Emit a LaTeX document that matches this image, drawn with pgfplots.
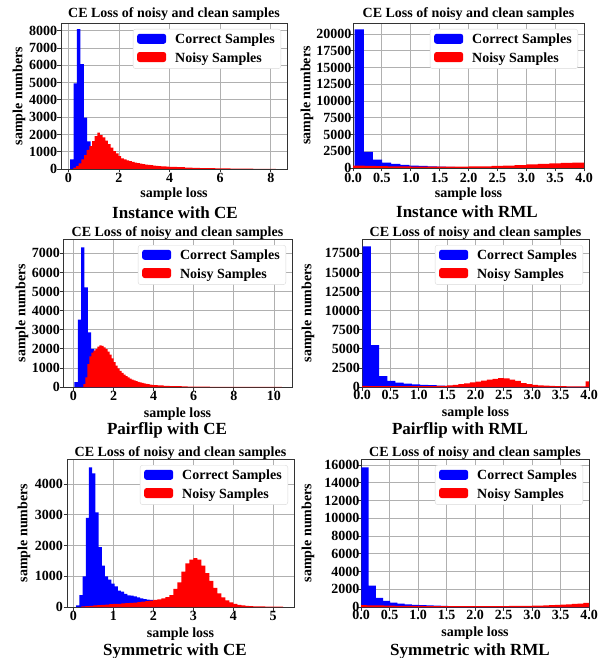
\documentclass[border=0pt]{standalone}
\usepackage{fontspec}
\setmainfont{Liberation Serif}
\usepackage{pgfplots}
\pgfplotsset{compat=1.18}

\definecolor{gridgray}{HTML}{B0B0B0}
\definecolor{framegray}{HTML}{333333}
\newcommand{\labfont}{\bfseries\fontsize{14}{16}\selectfont}
\newcommand{\capfont}{\bfseries\fontsize{17}{20}\selectfont}

\pgfplotsset{
  panel/.style={
    scale only axis, anchor=north west,
    ymin=0,
    grid=major,
    grid style={gridgray, line width=0.8pt},
    axis line style={framegray, line width=0.8pt},
    tick style={framegray, line width=0.8pt},
    tick align=outside, major tick length=3.5pt,
    xtick pos=left, ytick pos=left,
    /pgf/number format/assume math mode=true,
    /pgf/number format/1000 sep={},
    scaled ticks=false,
    tick label style={font=\labfont},
    label style={font=\labfont},
    title style={font=\labfont, at={(axis description cs:0.5,1)}, anchor=base},
    title={CE Loss of noisy and clean samples},
    xlabel={sample loss}, ylabel={sample numbers},
    xlabel style={at={(axis description cs:0.5,0)}, anchor=base},
    ylabel style={anchor=center},
    legend cell align=left,
    legend style={at={(axis description cs:1,1)}, anchor=north east,
      xshift=-6pt, yshift=-6pt, draw=black!15, rounded corners=2.5pt,
      font=\labfont, inner xsep=4pt, inner ysep=3pt, row sep=3pt,
      /tikz/every odd column/.append style={column sep=7pt}},
  },
  clean/.style={const plot, fill=blue, draw=none,
    legend image code/.code={\fill[blue] (0pt,-4pt) rectangle (29pt,6pt);}},
  noisy/.style={const plot, fill=red, draw=none,
    legend image code/.code={\fill[red] (0pt,-4pt) rectangle (29pt,6pt);}},
  onedec/.style={xticklabel style={/pgf/number format/fixed,
    /pgf/number format/fixed zerofill, /pgf/number format/precision=1}},
}

\begin{document}
\begin{tikzpicture}
\useasboundingbox (0,0) rectangle (602pt,-658pt);

% Instance with CE
\begin{axis}[panel, at={(61pt,-23pt)}, width=226pt, height=146pt,
  xmin=-0.29, xmax=8.64, ymax=8450,
  xtick={0,2,4,6,8}, ytick={0,1000,...,8000},
  title style={yshift=-1pt}, xlabel style={yshift=-29pt},
  ylabel style={at={(axis description cs:-0.186,0.5)}},
  yticklabel style={xshift=3.2pt}, xticklabel style={yshift=3pt}]
\addplot[clean] coordinates {
(0.07,560) (0.205,4950) (0.34,8090) (0.475,6070) (0.61,2970) (0.745,1600)
(0.88,900) (1.015,520) (1.15,300) (1.285,190) (1.42,120) (1.555,80)
(1.69,50) (1.825,35) (1.96,25) (2.095,15) (2.23,10) (2.5,10)} \closedcycle;
\addlegendentry{Correct Samples}
\addplot[noisy] coordinates {
(0.2,80) (0.305,170) (0.41,330) (0.515,560) (0.62,810) (0.725,1100)
(0.83,1330) (0.935,1620) (1.04,1900) (1.145,2100) (1.25,1960) (1.355,1830)
(1.46,1640) (1.565,1440) (1.67,1230) (1.775,1040) (1.88,900) (1.985,750)
(2.09,620) (2.195,560) (2.3,500) (2.405,450) (2.51,410) (2.615,370)
(2.72,340) (2.825,310) (2.93,285) (3.035,260) (3.14,240) (3.245,220)
(3.35,200) (3.455,185) (3.56,170) (3.665,158) (3.77,146) (3.875,135)
(3.98,125) (4.3,105) (4.6,85) (4.9,70) (5.2,57) (5.5,46) (5.8,37)
(6.1,30) (6.4,24) (6.7,19) (7.0,15) (7.3,12) (7.6,9) (7.9,7) (8.2,7)} \closedcycle;
\addlegendentry{Noisy Samples}
\end{axis}

% Instance with RML
\begin{axis}[panel, onedec, at={(353pt,-23pt)}, width=231pt, height=145pt,
  xmin=0, xmax=4, ymax=21650,
  xtick={0,0.5,...,4}, ytick={0,2500,...,20000},
  title style={yshift=-1pt}, xlabel style={yshift=-29.5pt},
  ylabel style={at={(axis description cs:-0.199,0.5)}},
  yticklabel style={xshift=5.5pt}, xticklabel style={yshift=2pt}]
\addplot[clean] coordinates {
(0.03,20700) (0.188,2400) (0.346,1250) (0.504,800) (0.662,600) (0.82,450)
(0.978,370) (1.136,310) (1.294,260) (1.452,200) (1.61,170) (1.768,145)
(1.926,125) (2.084,110) (2.242,95) (2.4,85) (2.558,75) (2.716,65)
(2.874,58) (3.032,52) (3.19,46) (3.348,40) (3.506,35) (3.664,30)
(3.822,26) (4.0,26)} \closedcycle;
\addlegendentry{Correct Samples}
\addplot[noisy] coordinates {
(0,350) (0.2,320) (0.4,290) (0.6,260) (0.8,240) (1.0,220) (1.2,210)
(1.4,200) (1.6,200) (1.8,210) (2.0,230) (2.2,260) (2.4,300) (2.6,360)
(2.8,440) (3.0,530) (3.2,620) (3.4,700) (3.6,760) (3.8,790) (4.0,790)} \closedcycle;
\addlegendentry{Noisy Samples}
\end{axis}

% Pairflip with CE
\begin{axis}[panel, at={(63pt,-239pt)}, width=229pt, height=148pt,
  xmin=-0.52, xmax=10.9, ymax=7750,
  xtick={0,2,...,10}, ytick={0,1000,...,7000},
  title style={yshift=-3.5pt}, xlabel style={yshift=-30pt},
  ylabel style={at={(axis description cs:-0.179,0.5)}},
  yticklabel style={xshift=4pt}, xticklabel style={yshift=2.5pt}]
\addplot[clean] coordinates {
(0.05,260) (0.217,3525) (0.383,7310) (0.55,5220) (0.717,2860) (0.883,2000)
(1.05,1300) (1.217,850) (1.383,550) (1.55,350) (1.717,220) (1.883,140)
(2.05,90) (2.217,60) (2.383,40) (2.55,40)} \closedcycle;
\addlegendentry{Correct Samples}
\addplot[noisy] coordinates {
(0.5,150) (0.6,500) (0.7,1200) (0.8,1600) (0.9,1800) (1.0,1900) (1.1,2000)
(1.2,2120) (1.3,2180) (1.4,2150) (1.5,2080) (1.6,1980) (1.7,1850) (1.8,1700)
(1.9,1500) (2.0,1300) (2.1,1120) (2.2,980) (2.3,850) (2.4,740) (2.5,650)
(2.6,570) (2.7,500) (2.8,440) (2.9,390) (3.0,345) (3.1,305) (3.2,270)
(3.3,240) (3.4,212) (3.5,188) (3.6,166) (3.7,147) (3.8,130) (3.9,115)
(4.0,100) (4.2,85) (4.5,65) (4.8,50) (5.1,40) (5.4,32) (5.7,25) (6.0,20)
(6.4,15) (6.8,11) (7.2,8) (7.6,6) (8.0,5) (8.5,4) (9.0,3) (9.5,2) (10.4,2)} \closedcycle;
\addlegendentry{Noisy Samples}
\end{axis}

% Pairflip with RML
\begin{axis}[panel, onedec, at={(362pt,-239pt)}, width=227pt, height=148pt,
  xmin=0, xmax=4, ymax=19380,
  xtick={0,0.5,...,4}, ytick={0,2500,...,17500},
  title style={yshift=-3.5pt}, xlabel style={yshift=-29.5pt},
  ylabel style={at={(axis description cs:-0.238,0.5)}},
  yticklabel style={xshift=5pt}, xticklabel style={yshift=4pt}]
\addplot[clean] coordinates {
(0.01,18400) (0.155,5470) (0.3,1440) (0.445,800) (0.59,570) (0.735,440)
(0.88,350) (1.025,280) (1.17,230) (1.315,190) (1.46,160) (1.605,135)
(1.75,115) (1.895,100) (2.04,85) (2.185,75) (2.33,65) (2.475,58)
(2.62,52) (2.765,46) (2.91,40) (3.055,36) (3.2,32) (3.345,28) (3.49,25)
(3.635,22) (3.78,20) (3.925,18) (4.0,18)} \closedcycle;
\addlegendentry{Correct Samples}
\addplot[noisy] coordinates {
(0,150) (0.1,130) (0.2,120) (0.3,110) (0.4,100) (0.5,100) (0.6,100)
(0.7,100) (0.8,100) (0.9,100) (1.0,105) (1.1,110) (1.2,120) (1.3,135)
(1.4,150) (1.5,200) (1.6,280) (1.7,370) (1.8,480) (1.9,600) (2.0,720)
(2.1,840) (2.2,960) (2.3,1080) (2.4,1150) (2.5,1120) (2.6,980) (2.7,800)
(2.8,520) (2.9,380) (3.0,280) (3.1,210) (3.2,170) (3.3,140) (3.4,120)
(3.5,100) (3.6,90) (3.7,85) (3.8,80) (3.9,80) (3.94,750) (4.0,750)} \closedcycle;
\addlegendentry{Noisy Samples}
\end{axis}

% Symmetric with CE
\begin{axis}[panel, at={(67pt,-459pt)}, width=227pt, height=148pt,
  xmin=-0.16, xmax=5.52, ymax=4820,
  xtick={0,1,...,5}, ytick={0,1000,...,4000},
  title style={yshift=-3.5pt}, xlabel style={yshift=-30pt},
  ylabel style={at={(axis description cs:-0.189,0.5)}},
  yticklabel style={xshift=2.9pt}, xticklabel style={yshift=3pt}]
\addplot[clean] coordinates {
(0.07,54) (0.15,390) (0.23,1000) (0.31,2900) (0.39,4550) (0.47,4355)
(0.55,3080) (0.63,1950) (0.71,1345) (0.79,1000) (0.87,890) (0.95,760)
(1.03,670) (1.11,530) (1.19,500) (1.27,430) (1.35,380) (1.43,370)
(1.51,350) (1.59,315) (1.67,280) (1.75,260) (1.83,240) (1.91,230)
(1.99,200) (2.07,160) (2.15,120) (2.23,90) (2.31,60) (2.39,40)
(2.47,25) (2.55,25)} \closedcycle;
\addlegendentry{Correct Samples}
\addplot[noisy] coordinates {
(0.2,20) (0.3,30) (0.4,40) (0.5,50) (0.6,60) (0.7,70) (0.8,80) (0.9,90)
(1.0,100) (1.1,105) (1.2,115) (1.3,125) (1.4,135) (1.5,145) (1.6,160)
(1.7,175) (1.8,190) (1.9,210) (2.0,230) (2.1,250) (2.2,280) (2.3,320)
(2.4,390) (2.5,590) (2.6,800) (2.7,1150) (2.8,1420) (2.9,1540) (3.0,1590)
(3.1,1540) (3.2,1350) (3.3,1100) (3.4,850) (3.5,620) (3.6,440) (3.7,310)
(3.8,220) (3.9,150) (4.0,105) (4.1,70) (4.2,50) (4.3,38) (4.4,30)
(4.5,22) (4.8,12) (5.25,12)} \closedcycle;
\addlegendentry{Noisy Samples}
\end{axis}

% Symmetric with RML
\begin{axis}[panel, onedec, at={(361pt,-459pt)}, width=228pt, height=148pt,
  xmin=0, xmax=4, ymax=16680,
  xtick={0,0.5,...,4}, ytick={0,2000,...,16000},
  title style={yshift=-3.5pt}, xlabel style={yshift=-29.5pt},
  ylabel style={at={(axis description cs:-0.232,0.5)}},
  yticklabel style={xshift=5.5pt}, xticklabel style={yshift=4pt}]
\addplot[clean] coordinates {
(0.005,15750) (0.132,2420) (0.259,1020) (0.386,690) (0.513,480) (0.64,380)
(0.767,300) (0.894,250) (1.021,210) (1.148,180) (1.275,150) (1.402,130)
(1.529,110) (1.656,95) (1.783,85) (1.91,75) (2.037,65) (2.164,55)
(2.291,50) (2.418,45) (2.545,40) (2.672,35) (2.799,30) (2.926,28)
(3.053,25) (3.18,22) (3.307,20) (3.434,18) (3.561,16) (3.688,15)
(3.815,14) (3.942,13) (4.0,13)} \closedcycle;
\addlegendentry{Correct Samples}
\addplot[noisy] coordinates {
(0,200) (0.1,190) (0.2,180) (0.3,170) (0.4,160) (0.5,150) (0.6,140)
(0.7,130) (0.8,125) (0.9,120) (1.0,115) (1.1,110) (1.2,105) (1.3,100)
(1.4,100) (1.5,95) (1.6,95) (1.7,95) (1.8,95) (1.9,95) (2.0,95) (2.1,95)
(2.2,100) (2.3,100) (2.4,105) (2.5,110) (2.6,115) (2.7,120) (2.8,130)
(2.9,140) (3.0,150) (3.1,165) (3.2,185) (3.3,210) (3.4,240) (3.5,270)
(3.6,300) (3.7,340) (3.8,390) (3.9,460) (4.0,460)} \closedcycle;
\addlegendentry{Noisy Samples}
\end{axis}

\node[font=\capfont, anchor=base] at (175pt,-218pt) {Instance with CE};
\node[font=\capfont, anchor=base] at (467pt,-217pt) {Instance with RML};
\node[font=\capfont, anchor=base] at (167pt,-434pt) {Pairflip with CE};
\node[font=\capfont, anchor=base] at (460pt,-434pt) {Pairflip with RML};
\node[font=\capfont, anchor=base] at (175pt,-655pt) {Symmetric with CE};
\node[font=\capfont, anchor=base] at (470pt,-655pt) {Symmetric with RML};
\end{tikzpicture}
\end{document}
